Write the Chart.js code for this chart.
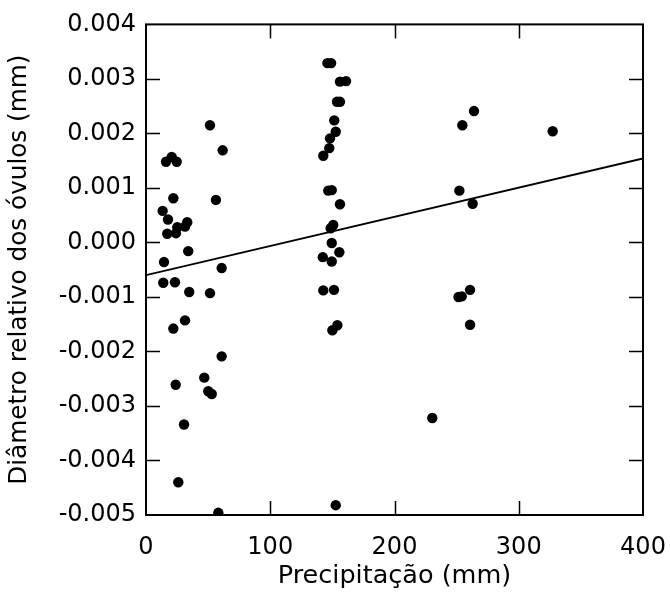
<!DOCTYPE html>
<html>
<head>
<meta charset="utf-8">
<script src="https://cdn.jsdelivr.net/npm/chart.js@4.4.0/dist/chart.umd.min.js"></script>
<style>
  html, body { margin: 0; padding: 0; background: #fff; }
  #wrap { width: 670px; height: 595px; position: relative; }
</style>
</head>
<body>
<div id="wrap"><canvas id="c" width="670" height="595"></canvas></div>
<script>
// Precipitation (mm)
const precip = [
  51.5, 61.7, 16.1, 20.7, 24.7, 22.0, 56.3, 13.4, 17.7, 33.2, 31.4, 25.2, 24.1, 17.1, 34.0, 14.5,
  60.9, 13.9, 23.3, 34.8, 51.5, 31.4, 22.0, 60.9, 46.9, 23.9, 50.1, 52.9, 30.6, 26.0, 58.2,
  146.0, 149.0, 156.1, 161.0, 153.7, 156.1, 151.5, 152.7, 148.1, 147.5, 142.7, 146.7, 149.5, 156.1,
  150.7, 148.6, 149.5, 142.3, 149.5, 155.6, 142.7, 151.3, 154.0, 150.0, 152.7,
  264.0, 254.6, 252.2, 262.9, 260.8, 254.1, 251.5, 260.8, 230.4, 327.3
];
// Relative ovule diameter (mm)
const diametro = [
  0.00215, 0.00169, 0.00148, 0.00157, 0.00148, 0.00081, 0.00078, 0.00058, 0.00042, 0.00037, 0.00029,
  0.00028, 0.00017, 0.00016, -0.00016, -0.00036, -0.00047, -0.00074, -0.00073, -0.00091, -0.00093,
  -0.00143, -0.00158, -0.00209, -0.00248, -0.00261, -0.00273, -0.00278, -0.00334, -0.00440, -0.00496,
  0.00329, 0.00329, 0.00295, 0.00296, 0.00258, 0.00258, 0.00224, 0.00203, 0.00191, 0.00173, 0.00159,
  0.00095, 0.00096, 0.00070, 0.00032, 0.00026, -0.00001, -0.00027, -0.00035, -0.00018, -0.00088,
  -0.00087, -0.00152, -0.00161, -0.00482,
  0.00241, 0.00215, 0.00095, 0.00071, -0.00087, -0.00099, -0.00100, -0.00151, -0.00322, 0.00204
];
// Regression line endpoints
const fitX = [0, 400];
const fitY = [-0.0006, 0.00154];
// Axis ticks
const xTicks = [0, 100, 200, 300, 400];
const yTicks = [0.004, 0.003, 0.002, 0.001, 0.000, -0.001, -0.002, -0.003, -0.004, -0.005];

const pts = precip.map((x, i) => ({ x: x, y: diametro[i] }));
const fitPts = fitX.map((x, i) => ({ x: x, y: fitY[i] }));

const FONT = "'DejaVu Sans', 'Liberation Sans', Arial, sans-serif";

const framePlugin = {
  id: 'frame',
  afterDatasetsDraw(chart) {
    const ctx = chart.ctx, a = chart.chartArea;
    const xs = chart.scales.x, ys = chart.scales.y;
    ctx.save();
    ctx.strokeStyle = '#000';
    ctx.lineWidth = 2;
    ctx.strokeRect(a.left, a.top, a.right - a.left, a.bottom - a.top);
    ctx.lineWidth = 1.5;
    const L = 14;
    ctx.beginPath();
    xTicks.forEach(v => {
      if (v === xs.min || v === xs.max) return;
      const px = Math.round(xs.getPixelForValue(v)) + 0.5;
      ctx.moveTo(px, a.bottom); ctx.lineTo(px, a.bottom - L);
      ctx.moveTo(px, a.top); ctx.lineTo(px, a.top + L);
    });
    yTicks.forEach(v => {
      if (Math.abs(v - ys.min) < 1e-9 || Math.abs(v - ys.max) < 1e-9) return;
      const py = Math.round(ys.getPixelForValue(v)) + 0.5;
      ctx.moveTo(a.left, py); ctx.lineTo(a.left + L, py);
      ctx.moveTo(a.right, py); ctx.lineTo(a.right - L, py);
    });
    ctx.stroke();
    ctx.restore();
  }
};

new Chart(document.getElementById('c'), {
  type: 'scatter',
  data: {
    datasets: [
      {
        type: 'line',
        data: fitPts,
        borderColor: '#000',
        borderWidth: 1.8,
        pointRadius: 0,
        fill: false,
        tension: 0,
        order: 2
      },
      {
        data: pts,
        backgroundColor: '#000',
        borderColor: '#000',
        pointRadius: 5.2,
        pointBorderWidth: 0,
        order: 1
      }
    ]
  },
  options: {
    responsive: false,
    animation: false,
    devicePixelRatio: 1,
    layout: { padding: { top: 23, right: 27, left: 0, bottom: 0 } },
    plugins: { legend: { display: false }, tooltip: { enabled: false } },
    scales: {
      x: {
        type: 'linear',
        min: 0, max: 400,
        afterBuildTicks: s => { s.ticks = xTicks.map(v => ({ value: v })); },
        afterFit: s => { s.height = 80; s.paddingRight = 20; s.paddingLeft = 0; },
        grid: { display: false, drawTicks: false },
        border: { display: false },
        ticks: {
          color: '#000',
          padding: 18,
          font: { family: FONT, size: 24 },
          maxRotation: 0,
          callback: v => String(v)
        },
        title: {
          display: true,
          text: 'Precipitação (mm)',
          color: '#000',
          font: { family: FONT, size: 25.5 },
          padding: { top: 2, bottom: 3 }
        }
      },
      y: {
        type: 'linear',
        min: -0.005, max: 0.004,
        afterBuildTicks: s => { s.ticks = yTicks.map(v => ({ value: v })); },
        afterFit: s => { s.width = 146; },
        grid: { display: false, drawTicks: false },
        border: { display: false },
        ticks: {
          color: '#000',
          padding: 10,
          font: { family: FONT, size: 24 },
          callback: v => (Math.abs(v) < 1e-9 ? 0 : v).toFixed(3)
        },
        title: {
          display: true,
          text: 'Diâmetro relativo dos óvulos (mm)',
          color: '#000',
          font: { family: FONT, size: 24.7 },
          padding: { top: 5, bottom: 4 }
        }
      }
    }
  },
  plugins: [framePlugin]
});
</script>
</body>
</html>
